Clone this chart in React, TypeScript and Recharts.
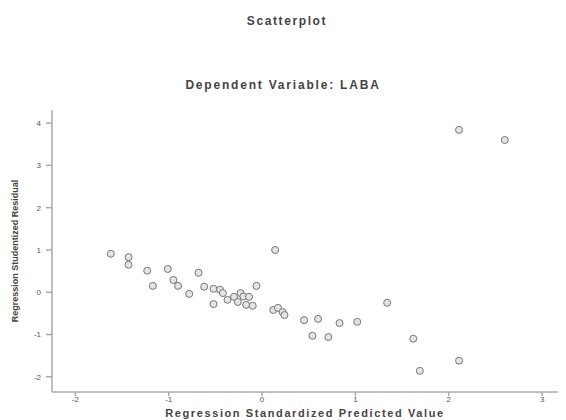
import { ScatterChart, Scatter, XAxis, YAxis } from "recharts";

// standardized predicted value (x) and studentized residual (y)
const PREDICTED = [
  -1.62, -1.43, -1.43, -1.23, -1.17, -1.01, -0.95, -0.9, -0.78, -0.68,
  -0.62, -0.52, -0.52, -0.45, -0.42, -0.37, -0.3, -0.26, -0.23, -0.2,
  -0.17, -0.14, -0.1, -0.06, 0.14, 0.12, 0.17, 0.22, 0.24, 0.45,
  0.6, 0.54, 0.71, 0.83, 1.02, 1.34, 1.62, 1.69, 2.11, 2.11, 2.6,
];
const RESIDUAL = [
  0.91, 0.83, 0.65, 0.51, 0.15, 0.55, 0.29, 0.15, -0.04, 0.46,
  0.13, 0.08, -0.28, 0.06, -0.02, -0.18, -0.11, -0.23, -0.02, -0.1,
  -0.3, -0.11, -0.32, 0.15, 1.0, -0.42, -0.37, -0.47, -0.54, -0.66,
  -0.63, -1.03, -1.06, -0.73, -0.7, -0.25, -1.1, -1.86, -1.62, 3.84, 3.6,
];
const X_TICKS = [-2, -1, 0, 1, 2, 3];
const Y_TICKS = [-2, -1, 0, 1, 2, 3, 4];

const points = PREDICTED.map((x, i) => ({ x, y: RESIDUAL[i] }));

const FONT = "'Liberation Sans', Arial, sans-serif";
const textStyle = {
  fontFamily: FONT,
  fontWeight: 700,
  color: "#444",
};
const tickStyle = { fontSize: 8, fill: "#555", fontFamily: FONT };

export default function App() {
  return (
    <div style={{ position: "absolute", left: 0, top: 0, width: 566, height: 420, background: "#fff", overflow: "hidden" }}>
      <div style={{ ...textStyle, position: "absolute", top: 14, width: 574, textAlign: "center", fontSize: 12, letterSpacing: 1.6 }}>
        Scatterplot
      </div>
      <div style={{ ...textStyle, position: "absolute", top: 78, width: 566, textAlign: "center", fontSize: 12, letterSpacing: 1.8 }}>
        Dependent Variable: LABA
      </div>
      <ScatterChart width={566} height={420} margin={{ top: 110, right: 8, bottom: 0, left: 0 }}>
        <XAxis
          type="number"
          dataKey="x"
          domain={[-2.25, 3.17]}
          ticks={X_TICKS}
          allowDataOverflow
          height={28}
          tickSize={4}
          tickMargin={0}
          tick={tickStyle}
          stroke="#aaa"
          strokeWidth={1.5}
        />
        <XAxis xAxisId="top" orientation="top" type="number" dataKey="x" domain={[-2.25, 3.17]} tick={false} tickLine={false} height={0} stroke="#bbb" strokeWidth={1.5} />
        <YAxis
          type="number"
          dataKey="y"
          domain={[-2.36, 4.31]}
          ticks={Y_TICKS}
          allowDataOverflow
          width={52}
          tickSize={6}
          tickMargin={5}
          tick={tickStyle}
          stroke="#aaa"
          strokeWidth={1.5}
          label={{
            value: "Regression Studentized Residual",
            angle: -90,
            position: "center",
            dx: -11,
            fontSize: 9,
            fontWeight: 700,
            fontFamily: FONT,
            fill: "#444",
          }}
        />
        <YAxis yAxisId="right" orientation="right" type="number" dataKey="y" domain={[-2.36, 4.31]} tick={false} tickLine={false} width={0} stroke="#bbb" strokeWidth={1.5} />
        <Scatter
          data={points}
          isAnimationActive={false}
          shape={(p: any) => <circle cx={p.cx} cy={p.cy} r={3.5} fill="#e4e4e4" stroke="#777" strokeWidth={1} />}
        />
      </ScatterChart>
      <div style={{ ...textStyle, position: "absolute", top: 407, left: 52, width: 506, textAlign: "center", fontSize: 11, letterSpacing: 1.6 }}>
        Regression Standardized Predicted Value
      </div>
    </div>
  );
}
